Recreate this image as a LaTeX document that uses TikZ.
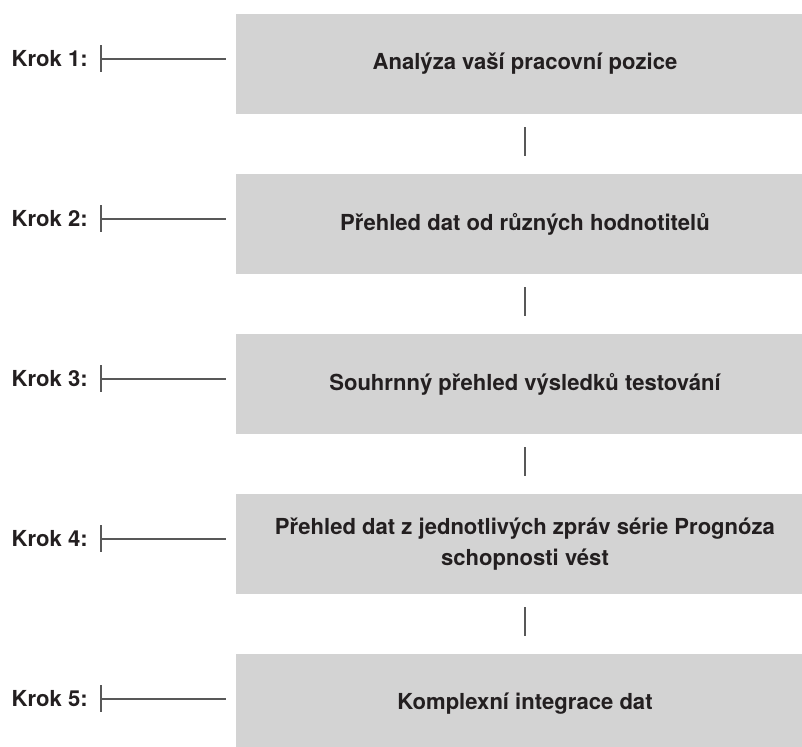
\documentclass[tikz,border=0pt]{standalone}
\usepackage{fontspec}
\setmainfont{TeX Gyre Heros}
\definecolor{boxgray}{HTML}{D3D3D3}
\definecolor{linegray}{HTML}{585858}
\definecolor{textdark}{HTML}{231F20}
\begin{document}
\begin{tikzpicture}[stepbox/.style={fill=boxgray,draw=none,minimum width=14.45cm,minimum height=2.5cm,inner sep=0pt,align=center,text=textdark,font=\fontsize{15.7}{22}\selectfont\bfseries},
    steplabel/.style={anchor=east,inner sep=0pt,text=textdark,font=\fontsize{15.7}{22}\selectfont\bfseries},
    joint/.style={draw=linegray,line width=1.4pt}, scale=1]
    \clip (0,0) rectangle (20.05,-18.675);

    \node[stepbox] (s1) at (13.125,-1.6) {Analýza vaší pracovní pozice};
    \node[stepbox] (s2) at (13.125,-5.6) {Přehled dat od různých hodnotitelů};
    \node[stepbox] (s3) at (13.125,-9.6) {Souhrnný přehled výsledků testování};
    \node[stepbox] (s4) at (13.125,-13.6) {Přehled dat z jednotlivých zpráv série Prognóza\\schopnosti vést};
    \node[stepbox] (s5) at (13.125,-17.6) {Komplexní integrace dat};

    \node[steplabel] (k1) at (2.2,-1.47) {Krok 1:};
    \node[steplabel] (k2) at (2.2,-5.47) {Krok 2:};
    \node[steplabel] (k3) at (2.2,-9.47) {Krok 3:};
    \node[steplabel] (k4) at (2.2,-13.47) {Krok 4:};
    \node[steplabel] (k5) at (2.2,-17.47) {Krok 5:};

    \coordinate (t1) at (2.525,-1.47);
    \coordinate (t2) at (2.525,-5.47);
    \coordinate (t3) at (2.525,-9.47);
    \coordinate (t4) at (2.525,-13.47);
    \coordinate (t5) at (2.525,-17.47);

    % ticks and leader lines
    \draw[joint] ([yshift=0.34cm]t1) -- ([yshift=-0.34cm]t1);
    \draw[joint,shorten >=0.25cm] (t1) -- (t1 -| s1.west);
    \draw[joint] ([yshift=0.34cm]t2) -- ([yshift=-0.34cm]t2);
    \draw[joint,shorten >=0.25cm] (t2) -- (t2 -| s2.west);
    \draw[joint] ([yshift=0.34cm]t3) -- ([yshift=-0.34cm]t3);
    \draw[joint,shorten >=0.25cm] (t3) -- (t3 -| s3.west);
    \draw[joint] ([yshift=0.34cm]t4) -- ([yshift=-0.34cm]t4);
    \draw[joint,shorten >=0.25cm] (t4) -- (t4 -| s4.west);
    \draw[joint] ([yshift=0.34cm]t5) -- ([yshift=-0.34cm]t5);
    \draw[joint,shorten >=0.25cm] (t5) -- (t5 -| s5.west);

    % between the steps
    \draw[joint,shorten <=0.325cm,shorten >=0.45cm] (s1.south) -- (s2.north);
    \draw[joint,shorten <=0.325cm,shorten >=0.45cm] (s2.south) -- (s3.north);
    \draw[joint,shorten <=0.325cm,shorten >=0.45cm] (s3.south) -- (s4.north);
    \draw[joint,shorten <=0.325cm,shorten >=0.45cm] (s4.south) -- (s5.north);
  \end{tikzpicture}
\end{document}
